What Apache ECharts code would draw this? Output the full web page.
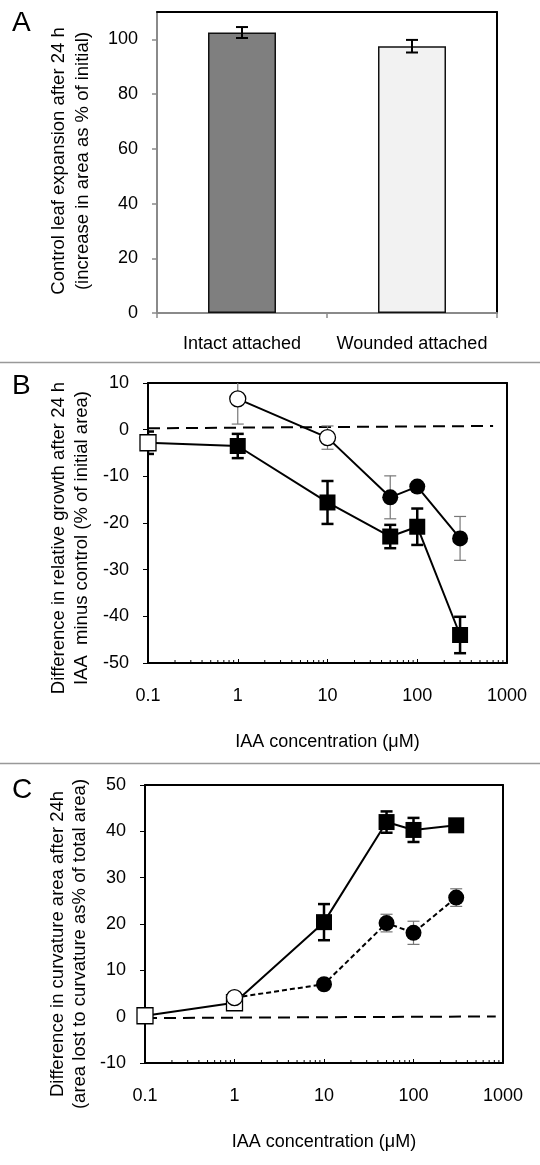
<!DOCTYPE html>
<html>
<head>
<meta charset="utf-8">
<script src="https://cdn.jsdelivr.net/npm/echarts@6/dist/echarts.min.js"></script>
<style>
html,body{margin:0;padding:0;background:#fff;}
#chart{width:540px;height:1165px;}
</style>
</head>
<body>
<div id="chart"></div>
<script>
// ---------- Data ----------
const aCategories = ['Intact attached', 'Wounded attached'];
const aValues = [102.5, 97.5];
const aErrors = [2.0, 2.3];
const aYTicks = [0, 20, 40, 60, 80, 100];

const logTicks = [0.1, 1, 10, 100, 1000];
const logMinorTicks = [0.2,0.3,0.4,0.5,0.6,0.7,0.8,0.9, 2,3,4,5,6,7,8,9, 20,30,40,50,60,70,80,90, 200,300,400,500,600,700,800,900];

const bSquareX = [0.1, 1, 10, 50, 100, 300];
const bSquareY = [-2.8, -3.5, -15.6, -22.9, -20.8, -44.0];
const bSquareErr = [2.4, 2.6, 4.6, 2.5, 3.9, 3.9];
const bCircleX = [1, 10, 50, 100, 300];
const bCircleY = [6.6, -1.7, -14.5, -12.2, -23.3];
const bCircleErr = [5.4, 2.5, 4.6, 1.0, 4.7];
const bBaselineX = [0.1, 700];
const bBaselineY = [0.3, 0.8];

const cSquareX = [0.1, 1, 10, 50, 100, 300];
const cSquareY = [0.2, 3.0, 20.4, 42.0, 40.3, 41.3];
const cSquareErr = [0, 0, 3.9, 2.3, 2.6, 0.5];
const cCircleX = [1, 10, 50, 100, 300];
const cCircleY = [4.1, 7.0, 20.2, 18.1, 25.7];
const cCircleErr = [0, 0, 1.9, 2.5, 1.9];
const cBaselineX = [0.1, 830];
const cBaselineY = [-0.3, 0.05];

// ---------- Helpers ----------
const FONT = "'Liberation Sans', Arial, sans-serif";
const zip = (xs, ys) => xs.map((x, i) => [x, ys[i]]);
const zip3 = (xs, ys, es) => xs.map((x, i) => [x, ys[i], es[i]]);

function errRender(capW, color, width) {
  return function (params, api) {
    const x = api.value(0), y = api.value(1), e = api.value(2);
    if (!e) return null;
    const hi = api.coord([x, y + e]);
    const lo = api.coord([x, y - e]);
    const h = capW / 2;
    const st = { stroke: color, lineWidth: width };
    return {
      type: 'group',
      children: [
        { type: 'line', shape: { x1: hi[0], y1: hi[1], x2: lo[0], y2: lo[1] }, style: st },
        { type: 'line', shape: { x1: hi[0] - h, y1: hi[1], x2: hi[0] + h, y2: hi[1] }, style: st },
        { type: 'line', shape: { x1: lo[0] - h, y1: lo[1], x2: lo[0] + h, y2: lo[1] }, style: st }
      ]
    };
  };
}
function minorTickRender(yMin, len) {
  return function (params, api) {
    const p = api.coord([api.value(0), yMin]);
    return { type: 'line', shape: { x1: p[0], y1: p[1], x2: p[0], y2: p[1] - len }, style: { stroke: '#000', lineWidth: 1 } };
  };
}
function markerData(xs, ys, openCount) {
  return xs.map((x, i) => i < openCount
    ? { value: [x, ys[i]], itemStyle: { color: '#fff', borderColor: '#000', borderWidth: 1.3 } }
    : { value: [x, ys[i]] });
}

const gray = '#8a8a8a';
const borderAxisX = (grid) => ({
  gridIndex: grid, type: 'value', position: 'top', min: 0, max: 1,
  axisLine: { show: true, onZero: false, lineStyle: { color: '#000', width: 2 } },
  axisTick: { show: false }, axisLabel: { show: false }, splitLine: { show: false }
});
const borderAxisY = (grid) => ({
  gridIndex: grid, type: 'value', position: 'right', min: 0, max: 1,
  axisLine: { show: true, onZero: false, lineStyle: { color: '#000', width: 2 } },
  axisTick: { show: false }, axisLabel: { show: false }, splitLine: { show: false }
});
const logAxis = (grid) => ({
  gridIndex: grid, type: 'log', logBase: 10, min: 0.1, max: 1000,
  name: 'IAA concentration (μM)', nameLocation: 'middle', nameGap: 70,
  nameTextStyle: { fontSize: 18, color: '#000', fontFamily: FONT },
  axisLine: { onZero: false, lineStyle: { color: '#000', width: 2 } },
  axisTick: { inside: true, length: 4, lineStyle: { color: '#000', width: 1 } },
  axisLabel: { fontSize: 18, color: '#000', margin: 24, fontFamily: FONT,
    customValues: logTicks, formatter: v => String(+Number(v).toPrecision(3)) },
  splitLine: { show: false }, minorTick: { show: false }
});
const valAxis = (grid, min, max) => ({
  gridIndex: grid, type: 'value', min: min, max: max, interval: 10,
  axisLine: { show: true, onZero: false, lineStyle: { color: '#000', width: 2 } },
  axisTick: { show: true, length: 5, lineStyle: { color: '#000', width: 1 } },
  axisLabel: { fontSize: 18, color: '#000', margin: 19, fontFamily: FONT },
  splitLine: { show: false }
});

const option = {
  animation: false,
  textStyle: { fontFamily: FONT },
  grid: [
    { left: 157, top: 12, width: 340, height: 301 },
    { left: 148, top: 383, width: 359, height: 280 },
    { left: 145, top: 785, width: 358, height: 278 }
  ],
  xAxis: [
    { gridIndex: 0, type: 'category', data: aCategories,
      axisLine: { onZero: false, lineStyle: { color: gray, width: 2 } },
      axisTick: { show: true, length: 5, lineStyle: { color: gray, width: 1.5 } },
      axisLabel: { fontSize: 18, color: '#000', margin: 22, fontFamily: FONT, interval: 0 },
      splitLine: { show: false } },
    borderAxisX(0),
    logAxis(1),
    borderAxisX(1),
    logAxis(2),
    borderAxisX(2)
  ],
  yAxis: [
    { gridIndex: 0, type: 'value', min: 0, max: 110, interval: 20,
      axisLine: { show: true, onZero: false, lineStyle: { color: gray, width: 2 } },
      axisTick: { show: true, length: 5, lineStyle: { color: gray, width: 1.5 }, customValues: aYTicks },
      axisLabel: { fontSize: 18, color: '#000', margin: 19, fontFamily: FONT, customValues: aYTicks },
      splitLine: { show: false } },
    borderAxisY(0),
    valAxis(1, -50, 10),
    borderAxisY(1),
    valAxis(2, -10, 50),
    borderAxisY(2)
  ],
  graphic: [
    { type: 'text', left: 12, top: 9, style: { text: 'A', font: '28px ' + FONT, fill: '#000' } },
    { type: 'text', left: 12, top: 372, style: { text: 'B', font: '28px ' + FONT, fill: '#000' } },
    { type: 'text', left: 12, top: 776, style: { text: 'C', font: '28px ' + FONT, fill: '#000' } },
    { type: 'line', shape: { x1: 0, y1: 362.5, x2: 540, y2: 362.5 }, style: { stroke: '#999', lineWidth: 1.5 } },
    { type: 'line', shape: { x1: 0, y1: 763.5, x2: 540, y2: 763.5 }, style: { stroke: '#999', lineWidth: 1.5 } },
    { type: 'text', x: 71, y: 161, rotation: Math.PI / 2,
      style: { text: 'Control leaf expansion after 24 h\n(increase in area as % of initial)', font: '18.5px ' + FONT,
        fill: '#000', align: 'center', verticalAlign: 'middle', lineHeight: 24 } },
    { type: 'text', x: 70, y: 538, rotation: Math.PI / 2,
      style: { text: 'Difference in relative growth after 24 h\nIAA  minus control (% of initial area)', font: '18.5px ' + FONT,
        fill: '#000', align: 'center', verticalAlign: 'middle', lineHeight: 23 } },
    { type: 'text', x: 69, y: 944, rotation: Math.PI / 2,
      style: { text: 'Difference in curvature area after 24h\n(area lost to curvature as% of total area)', font: '18.5px ' + FONT,
        fill: '#000', align: 'center', verticalAlign: 'middle', lineHeight: 22 } }
  ],
  series: [
    // Panel A
    { type: 'bar', xAxisIndex: 0, yAxisIndex: 0, barWidth: '40%',
      data: aValues.map((v, i) => ({ value: v, itemStyle: { color: i === 0 ? '#7f7f7f' : '#f2f2f2' } })),
      itemStyle: { borderColor: '#111', borderWidth: 1.5 }, silent: true },
    { type: 'custom', xAxisIndex: 0, yAxisIndex: 0, renderItem: errRender(12, '#000', 2),
      data: aValues.map((v, i) => [i, v, aErrors[i]]), z: 5, silent: true },

    // Panel B
    { type: 'custom', xAxisIndex: 2, yAxisIndex: 2, renderItem: minorTickRender(-50, 3), data: logMinorTicks.map(v => [v]), silent: true },
    { type: 'line', xAxisIndex: 2, yAxisIndex: 2, data: zip(bBaselineX, bBaselineY), showSymbol: false, symbol: 'none',
      lineStyle: { color: '#000', width: 2, type: [12, 7] }, silent: true, z: 1 },
    { type: 'custom', xAxisIndex: 2, yAxisIndex: 2, renderItem: errRender(12, '#000', 2.5), clip: true,
      data: zip3(bSquareX, bSquareY, bSquareErr), z: 2, silent: true },
    { type: 'custom', xAxisIndex: 2, yAxisIndex: 2, renderItem: errRender(12, '#777', 1.2), clip: true,
      data: zip3(bCircleX, bCircleY, bCircleErr), z: 2, silent: true },
    { type: 'line', xAxisIndex: 2, yAxisIndex: 2, data: markerData(bSquareX, bSquareY, 1), clip: false,
      symbol: 'rect', symbolSize: 16, itemStyle: { color: '#000' }, lineStyle: { color: '#000', width: 2 }, z: 3, silent: true },
    { type: 'line', xAxisIndex: 2, yAxisIndex: 2, data: markerData(bCircleX, bCircleY, 2), clip: false,
      symbol: 'circle', symbolSize: 16, itemStyle: { color: '#000' }, lineStyle: { color: '#000', width: 2 }, z: 4, silent: true },

    // Panel C
    { type: 'custom', xAxisIndex: 4, yAxisIndex: 4, renderItem: minorTickRender(-10, 3), data: logMinorTicks.map(v => [v]), silent: true },
    { type: 'line', xAxisIndex: 4, yAxisIndex: 4, data: zip(cBaselineX, cBaselineY), showSymbol: false, symbol: 'none',
      lineStyle: { color: '#000', width: 2, type: [12, 7] }, silent: true, z: 1 },
    { type: 'custom', xAxisIndex: 4, yAxisIndex: 4, renderItem: errRender(12, '#000', 2.5),
      data: zip3(cSquareX, cSquareY, cSquareErr), z: 2, silent: true },
    { type: 'custom', xAxisIndex: 4, yAxisIndex: 4, renderItem: errRender(12, '#777', 1.2),
      data: zip3(cCircleX, cCircleY, cCircleErr), z: 2, silent: true },
    { type: 'line', xAxisIndex: 4, yAxisIndex: 4, data: markerData(cSquareX, cSquareY, 2), clip: false,
      symbol: 'rect', symbolSize: 16, itemStyle: { color: '#000' }, lineStyle: { color: '#000', width: 2 }, z: 3, silent: true },
    { type: 'line', xAxisIndex: 4, yAxisIndex: 4, data: markerData(cCircleX, cCircleY, 1), clip: false,
      symbol: 'circle', symbolSize: 16, itemStyle: { color: '#000' }, lineStyle: { color: '#000', width: 2, type: [5, 3] }, z: 4, silent: true }
  ]
};

const chart = echarts.init(document.getElementById('chart'), null, { renderer: 'canvas' });
chart.setOption(option);
</script>
</body>
</html>
